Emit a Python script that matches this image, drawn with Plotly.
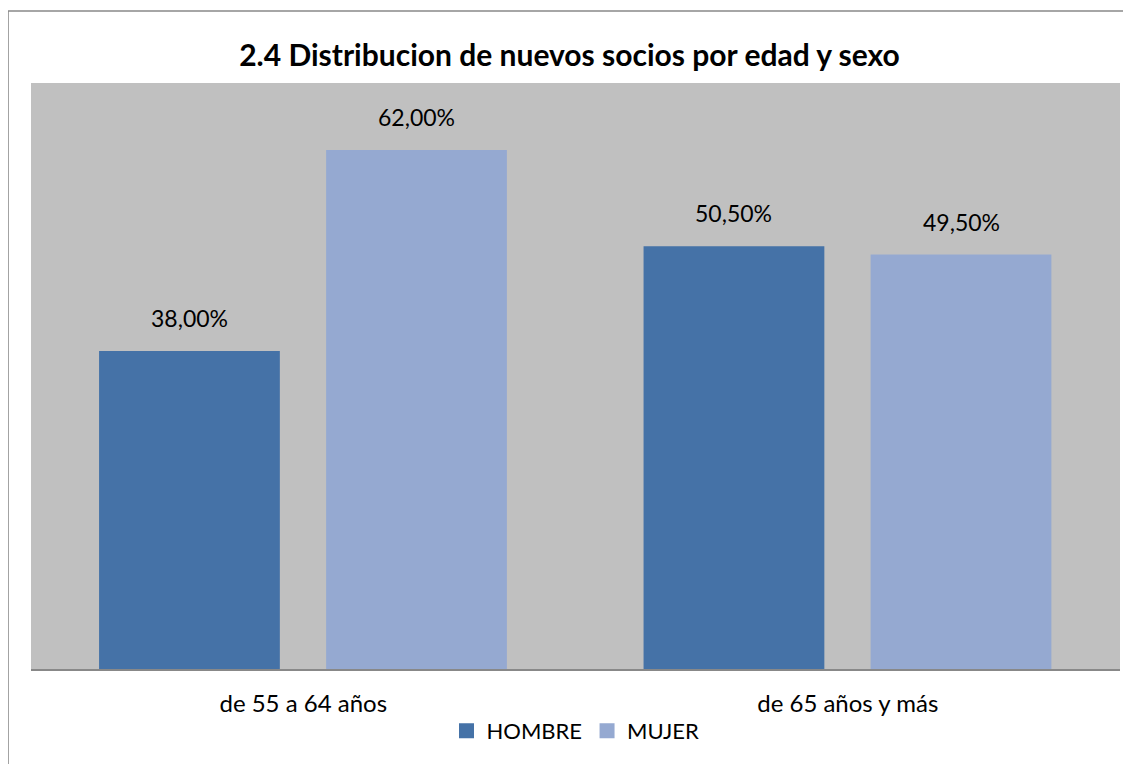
import plotly.graph_objects as go

categories = ["de 55 a 64 años", "de 65 años y más"]
hombre = [0.38, 0.505]
mujer = [0.62, 0.495]
hombre_labels = ["38,00%", "50,50%"]
mujer_labels = ["62,00%", "49,50%"]

font_family = "Lato, Calibri, Carlito, sans-serif"
bar_width = 0.332

fig = go.Figure()

series = [
    ("HOMBRE", hombre, hombre_labels, "#4572A7", -0.375),
    ("MUJER", mujer, mujer_labels, "#95A9D1", 0.042),
]

for name, values, labels, color, offset in series:
    fig.add_trace(go.Bar(
        x=categories, y=values, name=name, legendgroup=name,
        marker=dict(color=color, line=dict(width=0)),
        width=bar_width, offset=offset, showlegend=False,
    ))
    # legend entry with a bigger square swatch
    fig.add_trace(go.Scatter(
        x=[None], y=[None], mode="markers", name=name, legendgroup=name,
        marker=dict(symbol="square", size=15, color=color),
    ))
    # value labels sit a bit above each bar, like in the Excel original
    for cat, val, lab in zip(categories, values, labels):
        fig.add_annotation(
            x=cat, y=val, text=lab, showarrow=False,
            xshift=(offset + bar_width / 2) * 544.5,
            yanchor="bottom", yshift=17,
            font=dict(size=23, color="#000000", family=font_family),
        )

# chart frame (only left and top edges are visible in the source image)
fig.add_shape(type="line", xref="paper", yref="paper",
              x0=-0.0211, x1=-0.0211, y0=-0.3, y1=1.1229,
              line=dict(color="#888888", width=1.5))
fig.add_shape(type="line", xref="paper", yref="paper",
              x0=-0.0211, x1=1.05, y0=1.1229, y1=1.1229,
              line=dict(color="#888888", width=1.5))

fig.update_layout(
    width=1123, height=756,
    margin=dict(l=23, r=11, t=75, b=95, autoexpand=False),
    paper_bgcolor="white",
    plot_bgcolor="#C0C0C0",
    barmode="overlay",
    font=dict(family=font_family, size=20, color="#000000"),
    title=dict(
        text="<b>2.4 Distribucion de nuevos socios por edad y sexo</b>",
        x=0.5, xanchor="center", y=0.937, yanchor="middle",
        font=dict(size=30, color="#000000", family=font_family),
    ),
    xaxis=dict(
        showline=True, linecolor="#888888", linewidth=2,
        ticks="", tickfont=dict(size=24), ticklabelstandoff=12,
        showgrid=False, automargin=False,
    ),
    yaxis=dict(
        range=[0, 0.70], showticklabels=False, showgrid=False,
        zeroline=False, showline=False, automargin=False,
    ),
    legend=dict(
        orientation="h", x=0.5, xanchor="center", y=-0.07, yanchor="top",
        font=dict(size=22), traceorder="normal", itemwidth=30,
    ),
    showlegend=True,
)

fig.write_html("out.html")
